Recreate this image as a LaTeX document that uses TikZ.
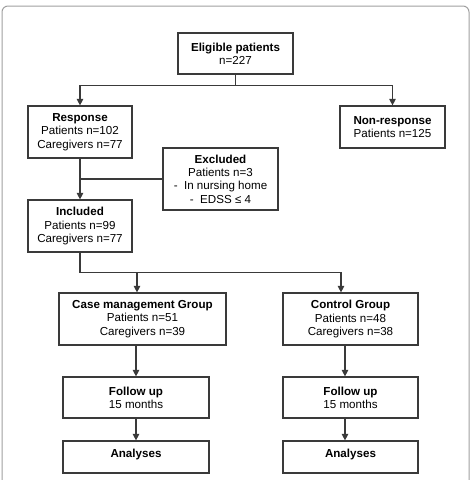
\documentclass[tikz,border=0pt]{standalone}
\usepackage{fontspec}
\setmainfont{Liberation Sans}
\usetikzlibrary{arrows.meta}
\definecolor{boxline}{HTML}{3A3A3A}
\definecolor{frameline}{HTML}{A0A0A0}
\begin{document}
\begin{tikzpicture}[x=1pt,y=-1pt,
  box/.style={draw=boxline, line width=1.2pt, fill=white, inner sep=0pt, align=center,
    font=\fontsize{11.6}{13.3}\selectfont, text=black},
  conn/.style={draw=boxline, line width=1.1pt},
  arr/.style={conn, -{Triangle[length=6.5pt,width=6.5pt]}}]
\useasboundingbox (0,0) rectangle (472,480);
\draw[frameline, line width=1pt, rounded corners=6pt] (2,482) -- (2,6) -- (469,6) -- (469,482);

\node[box, minimum width=115pt, minimum height=41pt] (elig) at (235.5,53.5) {\textbf{Eligible patients}\\n=227};
\node[box, minimum width=104pt, minimum height=52pt] (resp) at (80,132) {\textbf{Response}\\Patients n=102\\Caregivers n=77};
\node[box, minimum width=105pt, minimum height=42pt] (nonresp) at (392.5,127) {\textbf{Non-response}\\Patients n=125};
\node[box, minimum width=115pt, minimum height=62pt] (excl) at (220.5,179) {\textbf{Excluded}\\Patients n=3\\-~ In nursing home\\-~ EDSS ≤ 4};
\node[box, minimum width=104pt, minimum height=52pt] (incl) at (80,226) {\textbf{Included}\\Patients n=99\\Caregivers n=77};
\node[box, minimum width=167pt, minimum height=52pt] (case) at (142.5,319) {\textbf{Case management Group}\\Patients n=51\\Caregivers n=39};
\node[box, minimum width=135pt, minimum height=52pt] (ctrl) at (350.5,319) {\textbf{Control Group}\\Patients n=48\\Caregivers n=38};
\node[box, minimum width=146pt, minimum height=41pt] (fu1) at (136,397.5) {\textbf{Follow up}\\15 months};
\node[box, minimum width=135pt, minimum height=41pt] (fu2) at (350.5,397.5) {\textbf{Follow up}\\15 months};
\node[box, minimum width=146pt, minimum height=32pt, text height=6pt, text depth=6pt] (an1) at (136,457) {\textbf{Analyses}};
\node[box, minimum width=135pt, minimum height=32pt, text height=6pt, text depth=6pt] (an2) at (350.5,457) {\textbf{Analyses}};

\draw[arr] (elig.south) -- ++(0,11) -| (resp.north);
\draw[arr] (elig.south) -- ++(0,11) -| (nonresp.north);
\draw[arr] (resp.south) -- (incl.north);
\draw[conn] (excl.west) -- (excl.west -| resp.south);
\draw[arr] (incl.south) -- ++(0,20) -| ([xshift=-5.5pt]case.north);
\draw[arr] (incl.south) -- ++(0,20) -| ([xshift=-9.5pt]ctrl.north);
\draw[arr] (fu1.north |- case.south) -- (fu1.north);
\draw[arr] ([xshift=-5.5pt]fu2.north |- ctrl.south) -- ([xshift=-5.5pt]fu2.north);
\draw[arr] (fu1.south) -- (an1.north);
\draw[arr] ([xshift=-5.5pt]fu2.south) -- ([xshift=-5.5pt]an2.north);
\end{tikzpicture}
\end{document}
